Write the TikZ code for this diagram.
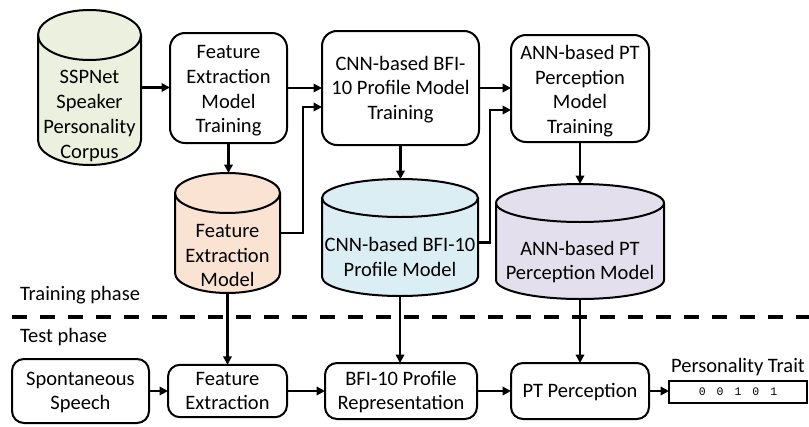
\documentclass[tikz,border=0pt]{standalone}
\usepackage{fontspec}
\setmainfont{Carlito}
\newfontfamily\monofont{Liberation Mono}
\usetikzlibrary{arrows.meta,calc}
\definecolor{sspfill}{HTML}{EBF1DE}
\definecolor{femfill}{HTML}{FBE3D3}
\definecolor{cnnfill}{HTML}{DAEEF3}
\definecolor{annfill}{HTML}{E4DFEC}
% name, cx, top, bottom, rx, ry, fill
\newcommand\mycyl[7]{%
  \path[fill=#7, draw, line width=2pt]
    ({#2-#5},{#3+#6}) -- ({#2-#5},{#4-#6})
    arc[start angle=180, end angle=360, x radius=#5pt, y radius=#6pt]
    -- ({#2+#5},{#3+#6})
    arc[start angle=0, end angle=180, x radius=#5pt, y radius=#6pt] -- cycle;
  \draw[line width=2pt] ({#2-#5},{#3+#6})
    arc[start angle=180, end angle=360, x radius=#5pt, y radius=#6pt];
  \node[minimum width={2*#5pt}, minimum height={(#4-#3)*1pt}] (#1) at (#2,{(#3+#4)/2}) {};
}
% lower the text of a box by #1/2 without moving the box
\newcommand\lowtext[2]{\raisebox{0pt}[\dimexpr\height+#1\relax]{\begin{tabular}{@{}c@{}}#2\end{tabular}}}
\begin{document}
\begin{tikzpicture}[x=1pt,y=-1pt,
  every node/.style={font=\fontsize{20.5}{24.7}\selectfont, align=center, inner sep=0pt, outer sep=0pt},
  procbox/.style={draw, line width=2pt, rounded corners=15pt},
  testbox/.style={draw, line width=2pt, rounded corners=12pt},
  arr/.style={line width=2.4pt, -{Triangle[length=8.5pt,width=8.5pt]}},
  phase/.style={anchor=west},
]
\useasboundingbox (0,0) rectangle (809,426);

% cylinders
\mycyl{sspnet}{89.5}{10}{165}{51.5}{25}{sspfill}
\node (sspnet-t) at (89.5,116) {SSPNet\\Speaker\\Personality\\Corpus};
\mycyl{fem}{227.5}{173}{293}{52.5}{20}{femfill}
\node (fem-t) at (227.5,255.5) {Feature\\Extraction\\Model};
\mycyl{cnnm}{400}{179}{296}{78}{19}{cnnfill}
\node (cnnm-t) at (400,257) {CNN-based BFI-10\\Profile Model};
\mycyl{annm}{580}{184}{299}{84}{19}{annfill}
\node (annm-t) at (580,262) {ANN-based PT\\Perception Model};

% training boxes
\node[procbox, minimum width=117pt, minimum height=110pt] (femt) at (228.5,88) {\lowtext{6pt}{Feature\\Extraction\\Model\\Training}};
\node[procbox, minimum width=157pt, minimum height=114pt] (cnnt) at (400.5,88) {\lowtext{4pt}{CNN-based BFI-\\10 Profile Model\\Training}};
\node[procbox, minimum width=138pt, minimum height=107pt] (annt) at (580,88.5) {\lowtext{6pt}{ANN-based PT\\Perception\\Model\\Training}};

% test boxes
\node[testbox, minimum width=137pt, minimum height=64pt] (speech) at (80.5,391) {\lowtext{3pt}{Spontaneous\\Speech}};
\node[testbox, minimum width=119pt, minimum height=52pt] (fe) at (227.5,391) {\lowtext{3pt}{Feature\\Extraction}};
\node[testbox, minimum width=152pt, minimum height=56pt] (bfi) at (401,391) {\lowtext{3pt}{BFI-10 Profile\\Representation}};
\node[testbox, minimum width=138pt, minimum height=56pt] (ptp) at (580,391) {\lowtext{3pt}{PT Perception}};
\node[draw, line width=1.3pt, minimum width=138pt, minimum height=22pt] (out) at (738,392)
  {\monofont\fontsize{11.5}{13}\selectfont 0\hspace{11pt}0\hspace{11pt}1\hspace{11pt}0\hspace{11pt}1};
\node (outlabel) at (738,367) {Personality Trait};

% phase labels and separator
\node[phase] (trainlbl) at (20,295.5) {Training phase};
\node[phase] (testlbl) at (20,337.5) {Test phase};
\coordinate (sepL) at (12,317);
\coordinate (sepR) at (809,317);
\draw[line width=4pt, dash pattern=on 15pt off 13pt] (sepL) -- (sepR);

% training connectors
\draw[arr] (sspnet.east) -- (sspnet.east -| femt.west);
\draw[arr] (femt.east) -- (femt.east -| cnnt.west);
\draw[arr] (femt.south) -- (femt.south |- fem.north);
\coordinate (j1) at (303,107);
\draw[arr] (fem.east) -| (j1) -- (j1 -| cnnt.west);
\draw[arr] (cnnt.south) -- (cnnt.south |- cnnm.north);
\draw[arr] (cnnt.east) -- (cnnt.east -| annt.west);
\coordinate (j2) at (490,110);
\coordinate (cnnmout) at ($(cnnm.east)+(0,5)$);
\draw[arr] (cnnmout) -| (j2) -- (j2 -| annt.west);
\draw[arr] (annt.south) -- (annt.south |- annm.north);

% test connectors
\draw[arr] (fem.south) -- (fem.south |- fe.north);
\draw[arr] (cnnm.south) -- (cnnm.south |- bfi.north);
\draw[arr] (annm.south) -- (annm.south |- ptp.north);
\draw[arr] (speech.east) -- (speech.east -| fe.west);
\draw[arr] (fe.east) -- (fe.east -| bfi.west);
\draw[arr] (bfi.east) -- (bfi.east -| ptp.west);
\draw[arr] (ptp.east) -- (ptp.east -| out.west);
\end{tikzpicture}
\end{document}
